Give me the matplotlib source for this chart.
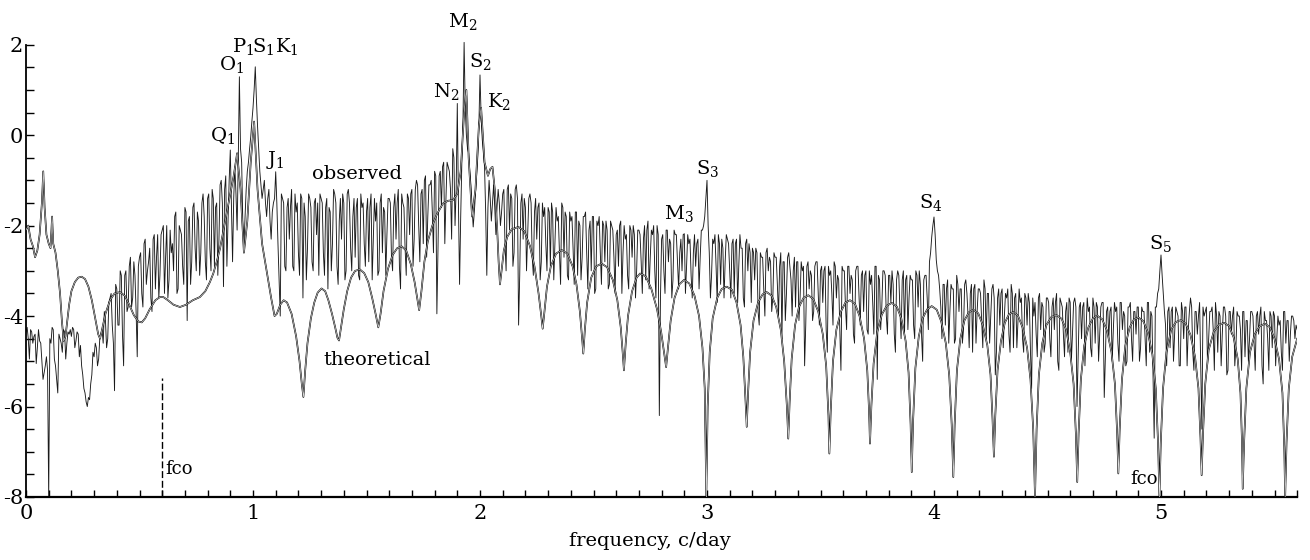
import numpy as np
import matplotlib
matplotlib.use("Agg")
import matplotlib.pyplot as plt
from matplotlib.ticker import MultipleLocator, FixedLocator

plt.rcParams['font.family'] = ['DejaVu Serif']
plt.rcParams['mathtext.fontset'] = 'dejavuserif'

# ---------------- data (log10 power vs frequency, c/day) ----------------
obs_f0 = 0.0
obs_df = 0.01
# values read at 0.00, 0.01, 0.02 ... 5.60 c/day
obs_power = [
    -4.35, -4.50, -4.30, -4.60, -4.40, -4.70, -4.55, -5.00, -5.25, -4.90,
    -8.00, -4.60, -4.30, -5.10, -5.70, -4.50, -4.80, -4.35, -4.60, -4.40,
    -4.45, -4.30, -4.55, -4.40, -4.65, -5.30, -5.70, -6.00, -5.85, -5.30,
    -4.90, -4.70, -4.95, -4.40, -4.60, -4.10, -4.50, -3.60, -4.20, -5.65,
    -3.40, -4.20, -3.10, -5.10, -3.00, -3.80, -2.70, -3.60, -3.10, -4.90,
    -2.70, -3.50, -2.40, -3.30, -2.80, -3.60, -2.30, -3.40, -2.20, -3.10,
    -2.10, -3.50, -2.00, -3.20, -2.60, -3.00, -1.70, -3.40, -2.10, -2.90,
    -1.60, -4.10, -1.80, -2.80, -1.50, -3.00, -1.90, -2.60, -1.30, -2.80,
    -1.40, -2.50, -1.20, -2.90, -1.50, -2.30, -1.00, -3.35, -0.90, -1.90,
    -0.33, -2.80, -0.70, -2.10, 1.29, -0.60, -2.47, -1.20, -0.60, -0.04,
    0.60, 1.51, 0.20, -0.80, -1.40, -1.00, -1.80, -1.20, -2.30, -1.50,
    -0.81, -2.40, -4.00, -1.40, -2.90, -1.60, -2.30, -1.20, -3.00, -1.70,
    -2.60, -1.30, -3.60, -1.80, -2.50, -1.40, -2.80, -1.50, -2.20, -3.10,
    -1.40, -2.60, -1.60, -3.40, -1.70, -2.40, -1.30, -2.90, -1.90, -2.30,
    -1.50, -3.00, -1.20, -2.50, -1.80, -2.70, -1.40, -3.20, -1.60, -2.40,
    -1.70, -2.80, -1.30, -2.30, -1.90, -3.10, -1.50, -2.60, -1.70, -2.20,
    -1.40, -2.70, -1.60, -2.30, -1.20, -3.40, -1.50, -2.50, -1.30, -2.20,
    -1.20, -2.30, -1.00, -2.00, -1.30, -2.40, -0.90, -1.80, -1.10, -1.70,
    -0.80, -3.95, -0.90, -1.60, -0.60, -1.40, -0.70, -1.20, -0.30, -2.00,
    0.70, -3.30, -0.60, 2.05, 0.00, -0.40, -1.10, -2.03, -1.30, -0.50,
    1.33, -0.10, -0.70, -3.10, -1.00, -1.90, -1.10, -2.20, -1.20, -2.00,
    -1.30, -2.40, -1.20, -2.10, -1.40, -2.60, -1.10, -4.20, -1.50, -2.30,
    -1.60, -2.20, -1.30, -2.70, -1.70, -2.30, -1.50, -2.80, -1.80, -2.40,
    -1.60, -2.90, -1.70, -2.40, -1.90, -2.60, -1.50, -2.70, -1.80, -3.20,
    -1.90, -2.50, -1.70, -3.10, -2.00, -2.70, -1.80, -2.60, -2.10, -3.00,
    -1.80, -3.40, -2.00, -2.60, -1.90, -2.80, -2.10, -3.30, -2.00, -2.70,
    -2.20, -2.90, -1.90, -2.60, -2.30, -3.10, -2.00, -2.70, -2.20, -3.00,
    -2.10, -2.80, -2.30, -3.20, -1.90, -2.70, -2.20, -3.00, -2.00, -6.20,
    -2.30, -3.00, -2.10, -2.80, -2.40, -3.20, -2.20, -2.80, -2.60, -3.00,
    -2.18, -2.90, -2.40, -3.10, -2.60, -2.90, -2.30, -2.70, -2.10, -1.80,
    -1.00, -2.60, -3.10, -2.40, -2.90, -2.20, -3.30, -2.50, -2.80, -2.30,
    -3.00, -2.40, -3.50, -2.30, -2.90, -2.50, -3.60, -2.40, -3.00, -2.60,
    -2.50, -3.20, -2.60, -4.20, -2.70, -3.40, -2.60, -3.00, -2.80, -3.60,
    -2.70, -3.30, -2.90, -4.50, -2.80, -3.50, -2.60, -3.20, -3.00, -3.80,
    -2.80, -3.60, -3.00, -5.10, -2.90, -3.40, -3.10, -3.90, -2.80, -3.50,
    -3.00, -3.70, -2.90, -4.80, -3.10, -3.50, -2.80, -3.60, -3.20, -5.20,
    -3.00, -3.80, -2.90, -3.50, -3.20, -4.60, -2.90, -3.60, -3.10, -3.90,
    -3.00, -4.40, -3.30, -3.70, -2.90, -5.40, -3.20, -3.80, -3.00, -4.00,
    -3.10, -3.70, -3.30, -4.80, -3.00, -3.90, -3.20, -4.40, -3.10, -3.60,
    -3.20, -4.20, -3.00, -3.80, -3.30, -5.00, -3.10, -3.60, -2.80, -2.25,
    -1.81, -2.76, -3.10, -3.80, -3.30, -4.20, -3.20, -3.90, -3.40, -4.60,
    -3.10, -3.90, -3.40, -4.30, -3.20, -4.00, -3.50, -4.80, -3.30, -3.90,
    -3.40, -4.10, -3.20, -4.50, -3.50, -4.00, -3.30, -5.30, -3.60, -4.20,
    -3.40, -4.00, -3.60, -4.40, -3.30, -4.70, -3.50, -4.10, -3.70, -4.50,
    -3.50, -4.20, -3.70, -5.60, -4.00, -4.40, -3.60, -4.30, -3.80, -4.60,
    -3.60, -4.50, -3.80, -4.30, -3.50, -5.20, -3.70, -4.40, -3.90, -4.80,
    -3.70, -4.40, -3.60, -6.00, -3.80, -4.50, -3.70, -4.30, -3.90, -4.70,
    -3.60, -4.60, -3.80, -4.40, -3.70, -5.80, -3.90, -4.50, -3.80, -4.30,
    -3.90, -4.60, -3.70, -4.30, -4.00, -5.00, -3.80, -4.50, -3.90, -4.40,
    -3.80, -4.70, -3.90, -4.50, -3.70, -4.80, -4.00, -6.70, -3.80, -3.40,
    -2.65, -3.50, -4.20, -3.90, -4.70, -3.80, -4.40, -3.90, -5.10, -3.70,
    -4.50, -3.80, -4.30, -3.60, -4.80, -3.90, -4.40, -3.70, -6.50, -4.00,
    -3.80, -4.50, -3.90, -4.30, -3.70, -4.80, -4.00, -4.40, -3.80, -5.30,
    -3.90, -4.40, -3.80, -4.70, -4.00, -4.30, -3.90, -4.90, -4.10, -4.50,
    -3.90, -4.60, -4.00, -4.40, -3.80, -5.50, -4.10, -4.50, -3.90, -4.70,
    -4.00, -4.50, -4.20, -4.80, -3.90, -4.60, -4.10, -4.40, -4.00, -4.50,
    -4.30,
]
# values read at 0.005, 0.015, 0.025 ... 5.595 c/day
obs_power_mid = [
    -4.25, -4.95, -4.35, -4.45, -5.05, -4.30, -4.60, -5.40, -5.10, -5.20,
    -4.50, -4.25, -4.95, -5.40, -4.40, -4.60, -4.30, -4.95, -4.35, -4.30,
    -4.25, -4.70, -4.35, -4.90, -5.10, -5.60, -5.90, -5.80, -5.50, -4.80,
    -4.60, -5.10, -4.50, -4.30, -3.90, -4.70, -3.70, -3.50, -4.60, -3.30,
    -4.20, -3.00, -4.40, -3.10, -3.90, -2.90, -3.80, -2.80, -3.90, -2.90,
    -2.60, -3.80, -2.30, -3.00, -2.50, -3.90, -2.20, -2.70, -3.60, -2.20,
    -2.00, -2.70, -3.60, -2.10, -2.40, -1.80, -3.50, -2.00, -2.20, -3.30,
    -1.70, -1.90, -3.30, -1.60, -2.50, -1.70, -3.10, -1.50, -1.80, -3.20,
    -1.30, -3.00, -1.40, -1.60, -3.10, -1.10, -1.50, -1.20, -2.90, -1.00,
    -1.60, -1.40, -1.30, -0.60, -0.30, -1.90, -1.80, -0.80, -0.30, 0.30,
    1.00, 0.80, -0.30, -1.10, -1.20, -1.50, -1.40, -1.90, -1.70, -1.40,
    -1.50, -3.20, -1.30, -1.50, -3.00, -1.40, -1.60, -2.90, -1.30, -1.50,
    -3.10, -1.40, -1.50, -3.20, -1.30, -1.60, -3.00, -1.40, -1.50, -1.30,
    -1.50, -3.10, -1.40, -1.60, -3.00, -1.20, -1.50, -3.30, -1.40, -1.30,
    -3.20, -1.30, -1.50, -3.00, -1.40, -1.60, -3.10, -1.30, -1.50, -2.90,
    -1.40, -1.60, -3.20, -1.40, -1.50, -3.00, -1.30, -1.60, -3.10, -1.40,
    -1.50, -3.00, -1.30, -1.50, -2.90, -1.30, -1.60, -3.10, -1.40, -1.30,
    -2.90, -1.20, -1.10, -2.80, -1.20, -1.00, -2.70, -1.10, -1.00, -2.60,
    -0.90, -2.50, -0.80, -0.70, -2.40, -0.60, -0.80, -2.30, -0.50, -1.20,
    -1.50, -1.80, 0.30, 0.60, -0.30, -0.80, -1.60, -1.70, -0.90, 0.20,
    0.40, -0.40, -1.70, -1.60, -1.40, -1.50, -1.60, -1.60, -1.50, -1.70,
    -1.20, -3.00, -1.10, -1.30, -2.90, -1.20, -1.40, -3.10, -1.30, -1.40,
    -3.00, -1.40, -1.50, -3.10, -1.40, -1.60, -3.20, -1.50, -1.60, -3.00,
    -1.70, -1.50, -3.20, -1.60, -1.80, -3.30, -1.60, -1.70, -3.10, -1.70,
    -1.80, -3.30, -1.70, -1.90, -3.20, -1.80, -1.70, -3.40, -1.90, -1.80,
    -3.50, -1.90, -1.80, -3.30, -2.00, -1.90, -3.40, -1.90, -2.10, -3.50,
    -2.10, -2.00, -3.50, -2.00, -2.20, -3.40, -2.10, -2.00, -3.60, -2.10,
    -2.20, -3.50, -2.00, -2.10, -3.40, -2.10, -2.00, -3.60, -2.20, -3.60,
    -2.20, -3.50, -2.10, -2.30, -3.60, -2.10, -2.20, -3.40, -2.30, -2.20,
    -3.50, -2.20, -2.30, -3.60, -2.20, -2.40, -3.40, -2.10, -2.00, -1.40,
    -2.00, -3.60, -2.30, -2.20, -3.70, -2.40, -2.30, -3.60, -2.20, -2.40,
    -3.60, -2.30, -2.40, -3.70, -2.20, -2.50, -3.80, -2.30, -2.40, -3.70,
    -2.60, -2.50, -3.90, -2.60, -2.70, -4.00, -2.50, -2.70, -3.90, -2.60,
    -2.70, -4.00, -2.60, -2.80, -4.10, -2.70, -2.90, -4.00, -2.70, -2.80,
    -4.10, -2.80, -2.90, -4.20, -2.80, -3.00, -4.10, -2.90, -2.80, -4.20,
    -2.90, -3.00, -4.30, -2.90, -3.00, -4.20, -2.90, -3.10, -4.30, -2.90,
    -3.00, -4.30, -2.90, -3.10, -4.40, -3.00, -2.90, -4.20, -3.00, -3.10,
    -4.30, -3.00, -3.10, -4.40, -2.90, -3.10, -4.30, -3.00, -3.10, -4.40,
    -3.10, -3.00, -4.40, -3.20, -3.10, -4.50, -3.00, -3.20, -4.30, -3.10,
    -3.20, -4.50, -3.10, -3.00, -4.40, -3.20, -3.10, -4.30, -2.60, -2.00,
    -2.20, -3.00, -3.40, -4.50, -3.30, -3.40, -4.60, -3.30, -3.40, -4.50,
    -3.30, -3.40, -4.60, -3.30, -3.50, -4.70, -3.30, -3.40, -4.60, -3.40,
    -3.50, -4.70, -3.40, -3.50, -4.60, -3.40, -3.60, -4.80, -3.40, -3.50,
    -4.70, -3.50, -3.40, -4.80, -3.50, -3.60, -4.70, -3.40, -3.60, -4.80,
    -3.60, -3.50, -4.80, -3.60, -3.70, -4.90, -3.50, -3.70, -4.80, -3.60,
    -3.70, -4.90, -3.60, -3.70, -5.00, -3.60, -3.80, -4.90, -3.70, -3.60,
    -5.00, -3.70, -3.80, -4.90, -3.70, -3.80, -5.10, -3.60, -3.80, -4.90,
    -3.80, -3.70, -5.00, -3.80, -3.70, -4.90, -3.80, -3.90, -5.00, -3.70,
    -3.80, -5.00, -3.70, -3.90, -5.10, -3.80, -3.70, -5.00, -3.90, -3.80,
    -5.00, -3.80, -3.90, -5.10, -3.70, -3.90, -5.30, -3.80, -3.50, -3.00,
    -3.10, -3.90, -5.10, -3.80, -3.90, -5.00, -3.80, -4.00, -5.10, -3.90,
    -3.80, -5.10, -3.90, -3.80, -5.20, -3.90, -4.00, -5.10, -3.80, -3.90,
    -5.10, -3.90, -3.80, -5.20, -4.00, -3.90, -5.10, -3.80, -4.00, -5.20,
    -3.90, -4.00, -5.10, -3.90, -4.00, -5.20, -3.90, -4.10, -5.00, -3.90,
    -4.00, -5.20, -3.90, -4.00, -5.10, -3.90, -4.10, -5.20, -4.00, -3.90,
    -5.10, -4.00, -4.10, -5.20, -3.90, -4.10, -5.00, -4.00, -4.10, -4.20,
]

theo_freq = [
    0.000, 0.010, 0.020, 0.030, 0.040, 0.050, 0.060, 0.070, 0.076, 0.082,
    0.090, 0.100, 0.108, 0.115, 0.120, 0.130, 0.140, 0.150, 0.158, 0.166,
    0.174, 0.182, 0.190, 0.200, 0.215, 0.230, 0.245, 0.260, 0.275, 0.290,
    0.305, 0.318, 0.326, 0.335, 0.350, 0.370, 0.390, 0.414, 0.435, 0.455,
    0.475, 0.495, 0.510, 0.525, 0.545, 0.570, 0.590, 0.605, 0.625, 0.650,
    0.678, 0.705, 0.735, 0.766, 0.790, 0.810, 0.825, 0.840, 0.855, 0.870,
    0.885, 0.900, 0.915, 0.930, 0.945, 0.960, 0.975, 0.990, 1.005, 1.020,
    1.040, 1.060, 1.080, 1.095, 1.105, 1.120, 1.135, 1.150, 1.170, 1.190,
    1.205, 1.215, 1.222, 1.230, 1.240, 1.255, 1.270, 1.285, 1.302, 1.318,
    1.332, 1.348, 1.362, 1.372, 1.379, 1.388, 1.400, 1.415, 1.432, 1.450,
    1.471, 1.490, 1.508, 1.525, 1.540, 1.552, 1.562, 1.575, 1.595, 1.615,
    1.635, 1.655, 1.675, 1.695, 1.712, 1.725, 1.732, 1.742, 1.755, 1.770,
    1.790, 1.810, 1.837, 1.860, 1.880, 1.900, 1.915, 1.930, 1.940, 1.950,
    1.965, 1.980, 1.995, 2.005, 2.020, 2.035, 2.045, 2.055, 2.065, 2.075,
    2.082, 2.088, 2.095, 2.105, 2.120, 2.140, 2.169, 2.195, 2.220, 2.240,
    2.258, 2.270, 2.276, 2.284, 2.295, 2.312, 2.335, 2.360, 2.385, 2.408,
    2.425, 2.440, 2.450, 2.455, 2.462, 2.472, 2.490, 2.512, 2.536, 2.560,
    2.585, 2.605, 2.620, 2.630, 2.634, 2.642, 2.652, 2.670, 2.690, 2.705,
    2.730, 2.755, 2.780, 2.798, 2.812, 2.820, 2.828, 2.840, 2.857, 2.878,
    2.899, 2.922, 2.945, 2.965, 2.980, 2.990, 2.997, 3.003, 3.012, 3.025,
    3.045, 3.065, 3.087, 3.110, 3.130, 3.148, 3.160, 3.170, 3.175, 3.181,
    3.190, 3.205, 3.225, 3.245, 3.263, 3.285, 3.305, 3.325, 3.340, 3.352,
    3.358, 3.364, 3.373, 3.388, 3.405, 3.425, 3.446, 3.468, 3.490, 3.510,
    3.525, 3.535, 3.539, 3.545, 3.555, 3.570, 3.590, 3.610, 3.630, 3.652,
    3.672, 3.692, 3.706, 3.714, 3.718, 3.724, 3.734, 3.750, 3.770, 3.792,
    3.814, 3.836, 3.856, 3.875, 3.888, 3.897, 3.902, 3.908, 3.918, 3.933,
    3.950, 3.970, 3.990, 4.012, 4.032, 4.052, 4.067, 4.078, 4.085, 4.091,
    4.101, 4.116, 4.134, 4.153, 4.173, 4.195, 4.215, 4.235, 4.249, 4.258,
    4.264, 4.270, 4.280, 4.295, 4.312, 4.330, 4.349, 4.370, 4.390, 4.410,
    4.425, 4.437, 4.445, 4.452, 4.462, 4.477, 4.495, 4.517, 4.540, 4.562,
    4.582, 4.600, 4.615, 4.625, 4.631, 4.637, 4.647, 4.662, 4.680, 4.700,
    4.719, 4.741, 4.762, 4.782, 4.797, 4.807, 4.812, 4.818, 4.828, 4.843,
    4.862, 4.880, 4.900, 4.922, 4.942, 4.962, 4.977, 4.987, 4.993, 4.999,
    5.009, 5.024, 5.045, 5.066, 5.087, 5.109, 5.130, 5.150, 5.165, 5.174,
    5.179, 5.185, 5.195, 5.210, 5.232, 5.255, 5.278, 5.300, 5.320, 5.338,
    5.350, 5.357, 5.360, 5.366, 5.376, 5.392, 5.413, 5.435, 5.458, 5.480,
    5.500, 5.520, 5.535, 5.543, 5.547, 5.553, 5.563, 5.578, 5.600,
]
theo_power = [
    -2.10, -2.00, -2.30, -2.45, -2.70, -2.55, -2.20, -1.50, -0.80, -1.60,
    -2.20, -2.40, -2.50, -1.80, -2.40, -2.60, -3.00, -3.50, -4.10, -4.55,
    -4.45, -4.10, -3.75, -3.45, -3.25, -3.15, -3.13, -3.18, -3.35, -3.65,
    -4.05, -4.40, -4.50, -4.30, -3.95, -3.65, -3.50, -3.47, -3.55, -3.75,
    -3.98, -4.12, -4.14, -4.05, -3.85, -3.65, -3.58, -3.58, -3.65, -3.75,
    -3.80, -3.75, -3.65, -3.58, -3.45, -3.25, -3.06, -2.80, -2.50, -2.10,
    -1.70, -1.30, -0.90, -0.40, -1.20, -2.60, -1.90, -0.60, 0.30, -1.20,
    -2.40, -3.00, -3.60, -4.00, -3.95, -3.75, -3.65, -3.70, -3.95, -4.45,
    -5.00, -5.50, -5.79, -5.20, -4.60, -4.05, -3.70, -3.48, -3.39, -3.45,
    -3.65, -3.95, -4.25, -4.48, -4.54, -4.25, -3.85, -3.45, -3.15, -3.00,
    -2.97, -3.05, -3.25, -3.60, -3.95, -4.25, -3.95, -3.45, -2.95, -2.65,
    -2.50, -2.46, -2.55, -2.85, -3.25, -3.65, -3.87, -3.45, -2.80, -2.35,
    -2.00, -1.75, -1.51, -1.45, -1.44, -1.30, -0.80, 0.50, 1.00, -0.50,
    -1.80, -1.20, 0.20, 0.60, -0.60, -0.90, -0.75, -0.70, -1.20, -2.00,
    -2.80, -3.30, -3.00, -2.55, -2.25, -2.08, -2.03, -2.12, -2.45, -2.90,
    -3.50, -4.00, -4.28, -3.90, -3.35, -2.90, -2.62, -2.54, -2.62, -2.90,
    -3.30, -3.90, -4.50, -4.83, -4.30, -3.70, -3.15, -2.90, -2.84, -2.92,
    -3.20, -3.65, -4.25, -4.90, -5.20, -4.60, -4.00, -3.45, -3.15, -3.06,
    -3.12, -3.40, -3.85, -4.35, -4.85, -5.13, -4.70, -4.10, -3.60, -3.30,
    -3.20, -3.28, -3.55, -4.00, -4.70, -5.60, -8.00, -6.00, -4.80, -4.05,
    -3.60, -3.40, -3.35, -3.42, -3.70, -4.20, -4.90, -5.90, -6.45, -5.70,
    -4.80, -4.10, -3.70, -3.52, -3.47, -3.55, -3.80, -4.30, -5.00, -6.00,
    -6.71, -5.90, -4.95, -4.20, -3.80, -3.60, -3.54, -3.62, -3.90, -4.40,
    -5.10, -6.20, -7.04, -6.10, -5.00, -4.30, -3.90, -3.70, -3.65, -3.73,
    -4.00, -4.50, -5.20, -6.10, -6.82, -6.00, -5.05, -4.35, -3.97, -3.77,
    -3.71, -3.79, -4.05, -4.55, -5.25, -6.40, -7.45, -6.30, -5.15, -4.45,
    -4.05, -3.85, -3.78, -3.86, -4.12, -4.60, -5.30, -6.40, -7.56, -6.40,
    -5.20, -4.50, -4.10, -3.92, -3.86, -3.94, -4.20, -4.65, -5.30, -6.30,
    -7.11, -6.20, -5.20, -4.55, -4.15, -3.96, -3.91, -3.99, -4.25, -4.70,
    -5.40, -6.50, -8.00, -6.50, -5.30, -4.60, -4.20, -4.02, -3.98, -4.06,
    -4.30, -4.80, -5.50, -6.60, -7.67, -6.60, -5.40, -4.65, -4.25, -4.05,
    -3.99, -4.07, -4.32, -4.80, -5.50, -6.60, -7.48, -6.50, -5.40, -4.65,
    -4.25, -4.08, -4.03, -4.11, -4.36, -4.85, -5.60, -6.80, -8.00, -6.80,
    -5.60, -4.80, -4.30, -4.13, -4.09, -4.17, -4.42, -4.90, -5.60, -6.70,
    -7.52, -6.60, -5.50, -4.75, -4.35, -4.19, -4.15, -4.22, -4.47, -4.95,
    -5.70, -6.80, -7.82, -6.80, -5.60, -4.80, -4.40, -4.22, -4.17, -4.25,
    -4.50, -4.95, -5.70, -6.90, -8.00, -6.80, -5.60, -4.90, -4.50,
]

constituents = ['Q$_1$', 'O$_1$', 'P$_1$', 'S$_1$', 'K$_1$', 'J$_1$',
                'N$_2$', 'M$_2$', 'S$_2$', 'K$_2$', 'M$_3$', 'S$_3$', 'S$_4$', 'S$_5$']
const_x = [0.866, 0.906, 0.955, 1.045, 1.150, 1.097,
           1.853, 1.925, 2.003, 2.085, 2.878, 3.001, 3.987, 4.996]
const_y = [0.00, 1.57, 1.97, 1.97, 1.97, -0.55,
           0.96, 2.52, 1.62, 0.74, -1.73, -0.74, -1.48, -2.40]

fco_freq = [0.60, 5.00]

# ---------------- figure ----------------
fig = plt.figure(figsize=(13.1, 5.6), dpi=100)
ax = fig.add_axes([26 / 1310, 63 / 560, 1271.2 / 1310, 497 / 560])

f_main = obs_f0 + obs_df * np.arange(len(obs_power))
f_mid = obs_f0 + obs_df * (np.arange(len(obs_power_mid)) + 0.5)
f_all = np.concatenate([f_main, f_mid])
p_all = np.concatenate([obs_power, obs_power_mid])
order = np.argsort(f_all)
ax.plot(f_all[order], p_all[order], color='#1a1a1a', lw=0.65, zorder=2)

ax.plot(theo_freq, theo_power, color='black', lw=1.2, zorder=3,
        solid_joinstyle='round')
ax.plot(theo_freq, theo_power, color='white', lw=0.4, zorder=4,
        solid_joinstyle='round')

# fco markers
ax.plot([fco_freq[0], fco_freq[0]], [-8.0, -5.38], color='black', lw=1.0,
        ls=(0, (5, 2)), zorder=3)
ax.text(fco_freq[0] + 0.012, -7.37, 'fco', fontsize=13, ha='left', va='center')
ax.text(fco_freq[1] - 0.012, -7.6, 'fco', fontsize=13, ha='right', va='center')

for lab, x, y in zip(constituents, const_x, const_y):
    ax.text(x, y, lab, fontsize=14, ha='center', va='center', zorder=5)

ax.text(1.457, -0.85, 'observed', fontsize=14, ha='center', va='center')
ax.text(1.545, -4.98, 'theoretical', fontsize=14, ha='center', va='center')

ax.set_xlim(0, 5.6)
ax.set_ylim(-8, 2.987)
ax.spines['top'].set_visible(False)
ax.spines['right'].set_visible(False)
ax.spines['left'].set_bounds(-8, 2)
ax.spines['left'].set_linewidth(1.3)
ax.spines['bottom'].set_linewidth(1.6)

ax.set_xticks([0, 1, 2, 3, 4, 5])
ax.set_yticks([2, 0, -2, -4, -6, -8])
ax.xaxis.set_minor_locator(MultipleLocator(0.1))
ax.yaxis.set_minor_locator(FixedLocator([-7.5, -7, -6.5, -5.5, -5, -4.5, -3.5, -3,
                                         -2.5, -1.5, -1, -0.5, 0.5, 1, 1.5]))
ax.tick_params(axis='both', which='both', direction='in', width=1.0,
               labelsize=15)
ax.tick_params(axis='x', which='both', length=5, pad=5)
ax.tick_params(axis='y', which='both', length=6, pad=2)
ax.set_yticklabels(['2', '0', '-2', '-4', '-6', '-8'])

fig.text(650 / 1310, 1 - 541 / 560, 'frequency, c/day', fontsize=14,
         ha='center', va='center')

fig.savefig('out.png', dpi=100)
